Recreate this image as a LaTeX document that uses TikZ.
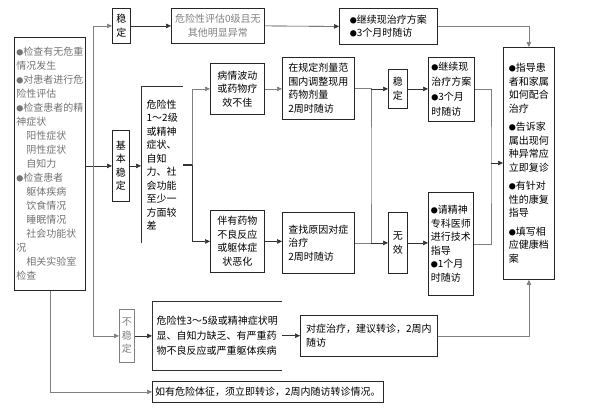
\documentclass[tikz,border=0pt]{standalone}
\usepackage{fontspec}
\setmainfont{Noto Sans CJK SC}
\usetikzlibrary{arrows.meta}
\newcommand\bul{{\fontsize{7}{7}\selectfont ●}}
\begin{document}
\begin{tikzpicture}[x=1pt,y=-1pt]
\tikzstyle{every node}=[inner sep=0pt,font=\fontsize{10}{13.5}\selectfont];
\tikzstyle{box}=[draw=black!85,line width=0.8pt,anchor=north west];
\tikzstyle{link}=[line width=0.6pt,black!80,-{Triangle[length=5pt,width=4.5pt]}];
\useasboundingbox (0,0) rectangle (589,418);
\node[box,minimum width=71pt,minimum height=253pt,align=left,text=black!55,font=\fontsize{10}{14}\selectfont] (lbox) at (14,37) {\bul 检查有无危重\\情况发生\\\bul 对患者进行危\\险性评估\\\bul 检查患者的精\\神症状\\\hspace*{1em}阳性症状\\\hspace*{1em}阴性症状\\\hspace*{1em}自知力\\\bul 检查患者\\\hspace*{1em}躯体疾病\\\hspace*{1em}饮食情况\\\hspace*{1em}睡眠情况\\\hspace*{1em}社会功能状\\况\\\hspace*{1em}相关实验室\\检查};
\node[box,minimum width=18pt,minimum height=35pt,align=center] (stable1) at (112,8) {稳\\定};
\node[box,minimum width=93pt,minimum height=35pt,align=center,text=black!50] (eval0) at (171,8) {危险性评估0级且无\\其他明显异常};
\node[box,minimum width=98pt,minimum height=36pt,align=left] (cont1) at (339,8) {\bul 继续现治疗方案\\\bul 3个月时随访};
\node[box,minimum width=51pt,minimum height=232pt,align=left] (guide) at (503,47) {\bul 指导患\\者和家属\\如何配合\\治疗\\[5pt]\bul 告诉家\\属出现何\\种异常应\\立即复诊\\[5pt]\bul 有针对\\性的康复\\指导\\[5pt]\bul 填写相\\应健康档\\案};
\node[box,minimum width=17pt,minimum height=71pt,align=center] (basic) at (112,130) {基\\本\\稳\\定};
\node[anchor=north west,minimum width=42pt,minimum height=157pt,align=left] (risk12) at (141,86) {危险性\\1～2级\\或精神\\症状、\\自知\\力、社\\会功能\\至少一\\方面较\\差};
\node[box,minimum width=54pt,minimum height=51pt,align=center] (worse) at (210,63) {病情波动\\或药物疗\\效不佳};
\node[box,minimum width=54pt,minimum height=62pt,align=center] (adverse) at (210,210) {伴有药物\\不良反应\\或躯体症\\状恶化};
\node[box,minimum width=72pt,minimum height=62pt,align=left] (adjust) at (282,57) {在规定剂量范\\围内调整现用\\药物剂量\\2周时随访};
\node[box,minimum width=72pt,minimum height=61pt,align=left] (search) at (282,212) {查找原因对症\\治疗\\2周时随访};
\node[box,minimum width=19pt,minimum height=39pt,align=center] (stable2) at (388,69) {稳\\定};
\node[box,minimum width=19pt,minimum height=61pt,align=center] (noeff) at (388,212) {无\\效};
\node[box,minimum width=46pt,minimum height=64pt,align=left,font=\fontsize{10}{15}\selectfont] (cont2) at (428,57) {\bul 继续现\\治疗方案\\\bul 3个月\\时随访};
\node[box,minimum width=45pt,minimum height=103pt,align=left] (refer) at (428,192) {\bul 请精神\\专科医师\\进行技术\\指导\\\bul 1个月\\时随访};
\node[box,draw=black!50,minimum width=15pt,minimum height=53pt,align=center,text=black!50] (unstable) at (119,309) {不\\稳\\定};
\node[anchor=north west,minimum width=130pt,minimum height=69pt,align=left,font=\fontsize{10}{15}\selectfont] (risk35) at (152,301) {危险性3～5级或精神症状明\\显、自知力缺乏、有严重药\\物不良反应或严重躯体疾病};
\node[box,minimum width=137pt,minimum height=41pt,align=left] (symp) at (300,315) {对症治疗，建议转诊，2周内\\随访};
\node[box,minimum width=231pt,minimum height=21pt,align=left] (danger) at (152,381) {如有危险体征，须立即转诊，2周内随访转诊情况。};
\draw[line width=0.6pt,black!80] (risk12.south west) -- (risk12.north west) -- (risk12.north east);
\draw[line width=0.6pt,black!80] (risk35.north east) -- (risk35.north west) -- (risk35.south west) -- (risk35.south east);
\coordinate (trunk) at (93,165);
\coordinate (fork1) at (192,165);
\coordinate (fork2) at (371,165);
\coordinate (fork3) at (491,163);
\draw[link] (lbox.east |- basic.west) -- (basic.west);
\draw[link,gray] (trunk) |- (stable1.west);
\draw[link,gray] (trunk) |- (unstable.west);
\draw[link] (stable1.east) -- (eval0.west);
\draw[link] (eval0.east) -- (cont1.west);
\draw[link,gray] (cont1.east) -| (guide.north);
\draw[link] (basic.east) -- (risk12.west |- basic.east);
\draw[line width=1.2pt,black!80] (risk12.east |- fork1) -- (fork1);
\draw[link,gray] (fork1) |- (worse.west);
\draw[link] (fork1) |- (adverse.west);
\draw[link,gray] (worse.east) -- (adjust.west |- worse.east);
\draw[link] (adverse.east) -- (search.west |- adverse.east);
\draw[line width=0.8pt,gray] (adjust.east) -| (fork2) |- (search.east);
\draw[link] (fork2 |- stable2.west) -- (stable2.west);
\draw[link] (fork2 |- noeff.west) -- (noeff.west);
\draw[link] (stable2.east) -- (cont2.west |- stable2.east);
\draw[link] (noeff.east) -- (refer.west |- noeff.east);
\draw[line width=0.6pt,gray] (cont2.east) -| (fork3) |- (refer.east);
\draw[link] (fork3) -- (guide.west |- fork3);
\draw[link] (unstable.east) -- (risk35.west |- unstable.east);
\draw[link] (risk35.east) -- (symp.west |- risk35.east);
\draw[link,gray] (symp.east) -| (guide.south);
\draw[link,gray] (lbox.south) |- (danger.west);
\end{tikzpicture}
\end{document}
